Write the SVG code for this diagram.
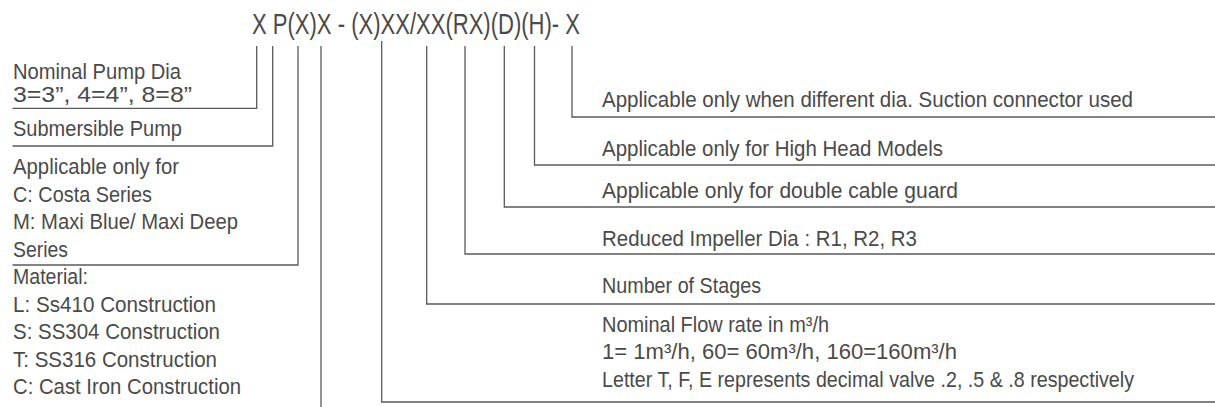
<svg xmlns="http://www.w3.org/2000/svg" width="1215" height="407" viewBox="0 0 1215 407">
<style>
  text { font-family: "Liberation Sans", Arial, sans-serif; fill: #4a4a4a; }
  .t { font-size: 22.5px; }
  .title { font-size: 29px; }
  .c path { fill: none; stroke: #5a5a5a; stroke-width: 1.3; }
</style>
<rect width="1215" height="407" fill="#ffffff"/>
<g id="title">
  <text class="title" x="252" y="33.5" textLength="328" lengthAdjust="spacingAndGlyphs">X P(X)X - (X)XX/XX(RX)(D)(H)- X</text>
</g>
<g class="c" id="connectors">
  <path d="M256.7 46 V108.3 H12.5"/>
  <path d="M272.7 46 V146 H12.5"/>
  <path d="M298 46 V265 H12.5"/>
  <path d="M321 46 V407"/>
  <path d="M381.7 41 V402 H1215"/>
  <path d="M426.7 46 V304 H1215"/>
  <path d="M465 46 V254 H1215"/>
  <path d="M504.3 46 V207 H1215"/>
  <path d="M534.5 46 V165 H1215"/>
  <path d="M572 46 V117 H1215"/>
</g>
<g id="n-dia">
  <text class="t" x="13" y="79" textLength="168" lengthAdjust="spacingAndGlyphs">Nominal Pump Dia</text>
  <text class="t" x="13" y="102" textLength="179" lengthAdjust="spacingAndGlyphs">3=3”, 4=4”, 8=8”</text>
</g>
<g id="n-sub">
  <text class="t" x="13" y="136" textLength="169" lengthAdjust="spacingAndGlyphs">Submersible Pump</text>
</g>
<g id="n-series">
  <text class="t" x="13" y="174" textLength="166" lengthAdjust="spacingAndGlyphs">Applicable only for</text>
  <text class="t" x="13" y="201.5" textLength="139" lengthAdjust="spacingAndGlyphs">C: Costa Series</text>
  <text class="t" x="13" y="229" textLength="225" lengthAdjust="spacingAndGlyphs">M: Maxi Blue/ Maxi Deep</text>
  <text class="t" x="13" y="256.5" textLength="55" lengthAdjust="spacingAndGlyphs">Series</text>
</g>
<g id="n-material">
  <text class="t" x="13" y="284" textLength="75" lengthAdjust="spacingAndGlyphs">Material:</text>
  <text class="t" x="13" y="311.5" textLength="203" lengthAdjust="spacingAndGlyphs">L: Ss410 Construction</text>
  <text class="t" x="13" y="339" textLength="207" lengthAdjust="spacingAndGlyphs">S: SS304 Construction</text>
  <text class="t" x="13" y="366.5" textLength="204" lengthAdjust="spacingAndGlyphs">T: SS316 Construction</text>
  <text class="t" x="13" y="394" textLength="228" lengthAdjust="spacingAndGlyphs">C: Cast Iron Construction</text>
</g>
<g id="n-suction">
  <text class="t" x="602" y="107" textLength="531" lengthAdjust="spacingAndGlyphs">Applicable only when different dia. Suction connector used</text>
</g>
<g id="n-head">
  <text class="t" x="602" y="155.5" textLength="341" lengthAdjust="spacingAndGlyphs">Applicable only for High Head Models</text>
</g>
<g id="n-guard">
  <text class="t" x="602" y="197.5" textLength="356" lengthAdjust="spacingAndGlyphs">Applicable only for double cable guard</text>
</g>
<g id="n-impeller">
  <text class="t" x="602" y="245.5" textLength="315" lengthAdjust="spacingAndGlyphs">Reduced Impeller Dia : R1, R2, R3</text>
</g>
<g id="n-stages">
  <text class="t" x="602" y="292.5" textLength="159" lengthAdjust="spacingAndGlyphs">Number of Stages</text>
</g>
<g id="n-flow">
  <text class="t" x="602" y="331.5" textLength="227" lengthAdjust="spacingAndGlyphs">Nominal Flow rate in m³/h</text>
  <text class="t" x="602" y="359" textLength="355" lengthAdjust="spacingAndGlyphs">1= 1m³/h, 60= 60m³/h, 160=160m³/h</text>
  <text class="t" x="602" y="386.5" textLength="532" lengthAdjust="spacingAndGlyphs">Letter T, F, E represents decimal valve .2, .5 &amp; .8 respectively</text>
</g>
</svg>
